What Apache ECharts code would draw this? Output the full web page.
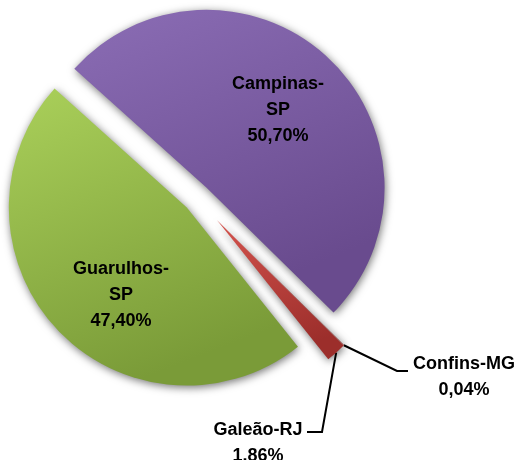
<!DOCTYPE html>
<html lang="pt">
<head>
    <meta charset="UTF-8">
    <title>Aeroportos</title>
    <script src="https://cdn.jsdelivr.net/npm/echarts@6/dist/echarts.min.js"></script>
    <style>
        body { margin: 0; padding: 0; background: #fff; }
        #chart { width: 519px; height: 460px; }
    </style>
</head>
<body>
    <div id="chart"></div>
    <script>
        // dados (ordem horaria a partir do corte superior esquerdo)
        const categories = ['Campinas-SP', 'Confins-MG', 'Galeão-RJ', 'Guarulhos-SP'];
        const shares = [50.70, 0.04, 1.86, 47.40];
        const shareLabels = ['50,70%', '0,04%', '1.86%', '47,40%'];

        // fatias grandes (rotulo dentro) x fatias pequenas (rotulo fora)
        const bigSlices = ['Campinas-SP', 'Guarulhos-SP'];

        const colors = {
            'Campinas-SP': ['#8b6db5', '#694b8e'],
            'Guarulhos-SP': ['#aad05a', '#7a9b38'],
            'Galeão-RJ': ['#d4534d', '#9c2e2b'],
            'Confins-MG': ['#d4534d', '#9c2e2b']
        };

        const cx = 197, cy = 198, radius = 178, startAngle = 138;

        // cada grupo de fatias e deslocado (explodido) para fora do centro
        const groups = [
            { names: ['Campinas-SP'], offset: 14 },
            { names: ['Guarulhos-SP'], offset: 14 },
            { names: ['Confins-MG', 'Galeão-RJ'], offset: 30 }
        ];

        // posicoes dos rotulos e das linhas guia
        const labelSpots = {
            'Campinas-SP': { x: 278, y: 110 },
            'Guarulhos-SP': { x: 121, y: 295 },
            'Confins-MG': { x: 464, y: 377, elbow: [397, 371], end: [408, 371] },
            'Galeão-RJ': { x: 258, y: 443, elbow: [322, 432], end: [307, 432] }
        };

        const total = shares.reduce((a, b) => a + b, 0);

        // angulo (radianos) em uma fracao acumulada do total
        function angleAt(cum) {
            return (startAngle - 360 * cum / total) * Math.PI / 180;
        }
        function sliceSpan(i) {
            let before = 0;
            for (let k = 0; k < i; k++) before += shares[k];
            return [before, before + shares[i]];
        }
        function groupCenter(g) {
            const idx = g.names.map(n => categories.indexOf(n));
            const lo = Math.min(...idx.map(i => sliceSpan(i)[0]));
            const hi = Math.max(...idx.map(i => sliceSpan(i)[1]));
            const a = angleAt((lo + hi) / 2);
            return [cx + g.offset * Math.cos(a), cy - g.offset * Math.sin(a)];
        }

        const textStyle = {
            fontFamily: 'Liberation Sans',
            fontWeight: 'bold',
            fontSize: 18,
            lineHeight: 26,
            color: '#000'
        };

        function formatLabel(p) {
            const i = categories.indexOf(p.name);
            const name = bigSlices.includes(p.name) ? p.name.replace('-', '-\n') : p.name;
            return name + '\n' + shareLabels[i];
        }

        function buildSeries(g) {
            const center = groupCenter(g);
            const outside = !bigSlices.includes(g.names[0]);
            const data = categories.map((name, i) => {
                const visible = g.names.includes(name);
                const c = colors[name];
                return {
                    name: name,
                    value: shares[i],
                    itemStyle: visible ? {
                        color: {
                            type: 'linear', x: 0, y: 0, x2: 0.4, y2: 1,
                            colorStops: [
                                { offset: 0, color: c[0] },
                                { offset: 1, color: c[1] }
                            ]
                        },
                        shadowBlur: 8,
                        shadowColor: 'rgba(0,0,0,0.55)',
                        shadowOffsetX: 1,
                        shadowOffsetY: 2
                    } : { color: 'rgba(0,0,0,0)' },
                    label: { show: visible },
                    labelLine: { show: visible && outside }
                };
            });
            return {
                type: 'pie',
                center: center,
                radius: radius,
                startAngle: startAngle,
                clockwise: true,
                animation: false,
                silent: true,
                avoidLabelOverlap: false,
                emphasis: { disabled: true },
                label: Object.assign({
                    position: outside ? 'outside' : 'inside',
                    formatter: formatLabel
                }, textStyle),
                labelLine: { show: outside, lineStyle: { color: '#000', width: 2 } },
                labelLayout: function (p) {
                    const name = categories[p.dataIndex];
                    const s = labelSpots[name];
                    const out = { x: s.x, y: s.y, align: 'center', verticalAlign: 'middle' };
                    if (s.elbow) {
                        const span = sliceSpan(p.dataIndex);
                        const a = angleAt((span[0] + span[1]) / 2);
                        const start = [center[0] + radius * Math.cos(a), center[1] - radius * Math.sin(a)];
                        out.labelLinePoints = [start, s.elbow, s.end];
                    }
                    return out;
                },
                data: data
            };
        }

        const chart = echarts.init(document.getElementById('chart'));
        chart.setOption({
            backgroundColor: '#fff',
            series: groups.map(buildSeries)
        });
    </script>
</body>
</html>
